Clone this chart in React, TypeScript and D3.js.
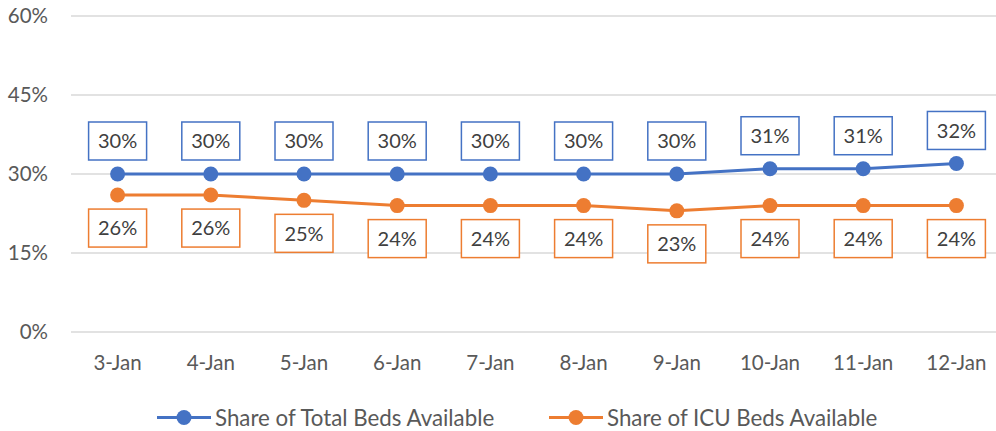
import * as d3 from "d3";

const dates = ["3-Jan", "4-Jan", "5-Jan", "6-Jan", "7-Jan", "8-Jan", "9-Jan", "10-Jan", "11-Jan", "12-Jan"];
const totalBeds = [0.30, 0.30, 0.30, 0.30, 0.30, 0.30, 0.30, 0.31, 0.31, 0.32];
const icuBeds = [0.26, 0.26, 0.25, 0.24, 0.24, 0.24, 0.23, 0.24, 0.24, 0.24];
const yTicks = [0, 0.15, 0.30, 0.45, 0.60];

const series = [
  { name: "Share of Total Beds Available", values: totalBeds, color: "#4472C4", above: true },
  { name: "Share of ICU Beds Available", values: icuBeds, color: "#ED7D31", above: false },
];

const FONT = "Lato, 'Open Sans', sans-serif";
const TEXT = "#595959";

export default function App() {
  const width = 996;
  const height = 431;
  // layout
  const plot = { left: 71, right: 1003, top: 16, bottom: 332 };
  const box = { w: 58, h: 38, gap: 14 };

  const x = d3.scaleBand<string>().domain(dates).range([plot.left, plot.right]);
  const cx = (d: string) => (x(d) ?? 0) + x.bandwidth() / 2;
  const y = d3.scaleLinear().domain([0, 0.6]).range([plot.bottom, plot.top]);
  const line = d3.line<number>().x((_, i) => cx(dates[i])).y((v) => y(v));
  const pct = d3.format(".0%");

  return (
    <svg width={width} height={height} style={{ position: "absolute", left: 0, top: 0 }}>
      <rect width={width} height={height} fill="#fff" />
      {/* gridlines + y labels */}
      {yTicks.map((t) => (
        <g key={t}>
          <line x1={plot.left} x2={width} y1={y(t)} y2={y(t)} stroke="#d9d9d9" strokeWidth={1.5} />
          <text x={48} y={y(t)} dy="0.35em" textAnchor="end" fontSize={20.5} fontFamily={FONT} fill={TEXT}>
            {pct(t)}
          </text>
        </g>
      ))}

      {/* x labels */}
      {dates.map((d) => (
        <text key={d} x={cx(d)} y={370} textAnchor="middle" fontSize={20.5} fontFamily={FONT} fill={TEXT}>
          {d}
        </text>
      ))}

      {/* series */}
      {series.map((s) => (
        <g key={s.name}>
          <path d={line(s.values) ?? ""} fill="none" stroke={s.color} strokeWidth={3} />
          {s.values.map((v, i) => (
            <circle key={i} cx={cx(dates[i])} cy={y(v)} r={7.5} fill={s.color} />
          ))}
          {s.values.map((v, i) => {
            const px = cx(dates[i]);
            const top = s.above ? y(v) - box.gap - box.h : y(v) + box.gap;
            return (
              <g key={"l" + i}>
                <rect x={px - box.w / 2} y={top} width={box.w} height={box.h} fill="#fff" stroke={s.color} strokeWidth={1.5} />
                <text x={px} y={top + box.h / 2} dy="0.36em" textAnchor="middle" fontSize={20} fontFamily={FONT} fill="#404040">
                  {pct(v)}
                </text>
              </g>
            );
          })}
        </g>
      ))}

      {/* legend */}
      {series.map((s, i) => {
        const lx = i === 0 ? 157 : 549;
        const ly = 417.5;
        return (
          <g key={"lg" + i}>
            <line x1={lx} x2={lx + 54} y1={ly} y2={ly} stroke={s.color} strokeWidth={3} />
            <circle cx={lx + 27} cy={ly} r={7.5} fill={s.color} />
            <text x={lx + 58} y={ly} dy="0.36em" fontSize={22.3} fontFamily={FONT} fill={TEXT}>
              {s.name}
            </text>
          </g>
        );
      })}
    </svg>
  );
}
